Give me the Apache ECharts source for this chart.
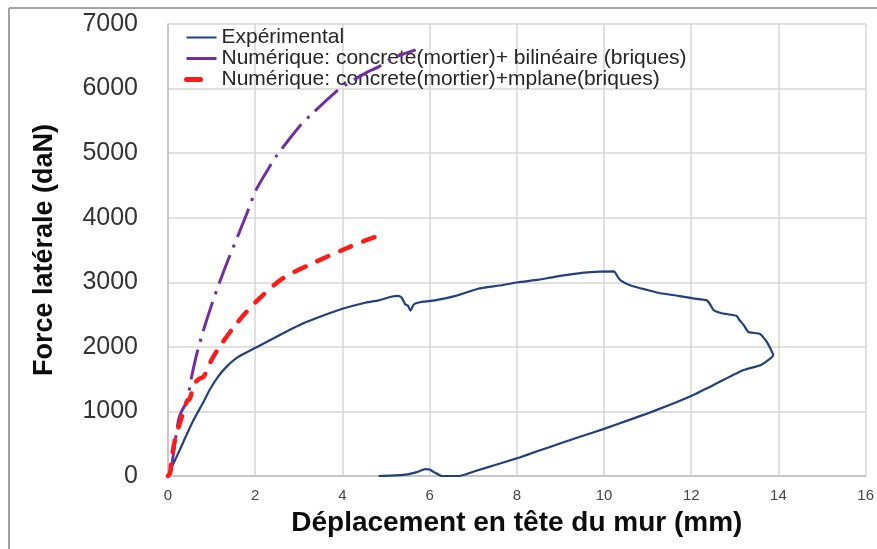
<!DOCTYPE html>
<html>
<head>
<meta charset="utf-8">
<script src="https://cdn.jsdelivr.net/npm/echarts@6/dist/echarts.min.js"></script>
<style>
  html, body { margin: 0; padding: 0; background: #ffffff; }
  #chart { width: 877px; height: 549px; }
</style>
</head>
<body>
<div id="chart"></div>
<script>
// Tick values
const xTicks = [0, 2, 4, 6, 8, 10, 12, 14, 16];
const yTicks = [0, 1000, 2000, 3000, 4000, 5000, 6000, 7000];

// Experimental curve: loading branch then unloading branch (mm, daN)
const expDisp = [
  0, 0.1, 0.2, 0.4, 0.58, 0.8, 0.96, 1.15, 1.34, 1.6, 2.02, 2.5, 3.09, 3.5, 4.0, 4.5,
  4.83, 5.14, 5.29, 5.36, 5.44, 5.5, 5.56, 5.62, 5.67, 5.85, 6.12, 6.6, 7.11, 7.6, 8.03,
  8.5, 8.86, 9.2, 9.55, 9.9, 10.23, 10.3, 10.38, 10.61, 11.0, 11.29, 11.7, 12.05, 12.36,
  12.45, 12.51, 12.7, 13.04, 13.1, 13.2, 13.31, 13.58, 13.73, 13.88,
  13.6, 13.2, 12.6, 12.06, 11.5, 10.92, 10.5, 10.0, 9.5, 9.02, 8.5, 8.03, 7.5, 7.11,
  6.8, 6.66, 6.28, 6.1, 6.0, 5.9, 5.7, 5.44, 5.1, 4.83
];
const expForce = [
  0, 160, 300, 600, 860, 1130, 1340, 1540, 1690, 1840, 1990, 2160, 2360, 2470, 2590, 2680,
  2720, 2780, 2790, 2760, 2660, 2640, 2560, 2640, 2670, 2700, 2720, 2790, 2900, 2950, 3000,
  3040, 3085, 3120, 3150, 3165, 3170, 3100, 3030, 2950, 2880, 2830, 2790, 2750, 2720,
  2640, 2570, 2520, 2480, 2420, 2340, 2230, 2200, 2080, 1870,
  1720, 1640, 1440, 1260, 1100, 950, 850, 730, 620, 510, 390, 280, 170, 90,
  20, 0, 0, 60, 100, 105, 60, 20, 5, 0
];

// Numerical model: concrete (mortar) + bilinear (bricks)
const biliDisp = [
  0, 0.05, 0.12, 0.24, 0.31, 0.43, 0.54, 0.66, 0.81, 1.0, 1.2, 1.38, 1.64, 1.81, 2.02,
  2.33, 2.48, 3.01, 3.32, 3.85, 4.08, 4.53, 4.84, 5.14, 5.68
];
const biliForce = [
  0, 40, 320, 860, 1000, 1150, 1530, 1890, 2250, 2650, 3030, 3350, 3780, 4070, 4430,
  4790, 4950, 5410, 5620, 5950, 6060, 6240, 6340, 6470, 6600
];

// Numerical model: concrete (mortar) + mplane (bricks)
const mplaneDisp = [
  0, 0.05, 0.08, 0.16, 0.3, 0.43, 0.5, 0.6, 0.7, 0.82, 1.0, 1.19, 1.56, 2.02, 2.63,
  3.24, 4.0, 4.5, 5.0
];
const mplaneForce = [
  0, 50, 250, 560, 880, 1150, 1200, 1420, 1500, 1540, 1800, 2010, 2350, 2700, 3060,
  3270, 3500, 3640, 3760
];

const seriesNames = [
  'Expérimental',
  'Numérique: concrete(mortier)+ bilinéaire (briques)',
  'Numérique: concrete(mortier)+mplane(briques)'
];

function zip(xs, ys) { return xs.map((x, i) => [x, ys[i]]); }

const FONT = '"Liberation Sans", Arial, sans-serif';
const GRID_COLOR = '#D6D6D6';

const chart = echarts.init(document.getElementById('chart'), null, { renderer: 'canvas' });

chart.setOption({
  backgroundColor: '#ffffff',
  animation: false,
  textStyle: { fontFamily: FONT },
  grid: { left: 168, right: 8, top: 24, bottom: 73, containLabel: false },
  graphic: [
    { type: 'line', shape: { x1: 9, y1: 8, x2: 877, y2: 8 }, style: { stroke: '#A3A3A3', lineWidth: 2 }, silent: true },
    { type: 'line', shape: { x1: 9, y1: 8, x2: 9, y2: 549 }, style: { stroke: '#A3A3A3', lineWidth: 2 }, silent: true }
  ],
  legend: {
    orient: 'vertical',
    left: 179,
    top: 22,
    itemWidth: 30,
    itemHeight: 14,
    itemGap: 0,
    itemStyle: { opacity: 0 },
    textStyle: { fontFamily: FONT, fontSize: 21, color: '#262626', lineHeight: 20 },
    data: [
      { name: seriesNames[0], lineStyle: { type: 'solid', width: 2 } },
      { name: seriesNames[1], lineStyle: { type: 'solid', width: 3 } },
      { name: seriesNames[2], lineStyle: { type: [14, 40], width: 5, cap: 'round' } }
    ]
  },
  xAxis: {
    type: 'value',
    min: xTicks[0],
    max: xTicks[xTicks.length - 1],
    interval: 2,
    name: 'Déplacement en tête du mur (mm)',
    nameLocation: 'middle',
    nameGap: 33,
    nameTextStyle: { fontFamily: FONT, fontSize: 28, fontWeight: 'bold', color: '#0d0d0d' },
    axisLine: { show: true, lineStyle: { color: '#BFBFBF', width: 1.5 } },
    axisTick: { show: false },
    axisLabel: { fontFamily: FONT, fontSize: 15, color: '#454545', margin: 12 },
    splitLine: { show: true, lineStyle: { color: GRID_COLOR, width: 1.5 } }
  },
  yAxis: {
    type: 'value',
    min: yTicks[0],
    max: yTicks[yTicks.length - 1],
    interval: 1000,
    name: 'Force latérale (daN)',
    nameLocation: 'middle',
    nameGap: 110,
    nameTextStyle: { fontFamily: FONT, fontSize: 27, fontWeight: 'bold', color: '#0d0d0d' },
    axisLine: { show: true, lineStyle: { color: '#BFBFBF', width: 1.5 } },
    axisTick: { show: false },
    axisLabel: {
      fontFamily: FONT, fontSize: 25, color: '#333333', margin: 30,
      formatter: (v) => String(v)
    },
    splitLine: { show: true, lineStyle: { color: GRID_COLOR, width: 1.5 } }
  },
  series: [
    {
      name: seriesNames[0],
      type: 'line',
      data: zip(expDisp, expForce),
      showSymbol: false,
      symbol: 'none',
      smooth: 0.15,
      color: '#23407C',
      lineStyle: { color: '#23407C', width: 2.2 },
      z: 3
    },
    {
      name: seriesNames[1],
      type: 'line',
      data: zip(biliDisp, biliForce),
      showSymbol: false,
      symbol: 'none',
      smooth: 0.3,
      color: '#7030A0',
      lineStyle: { color: '#7030A0', width: 3, type: [31, 8, 3, 8] },
      z: 4
    },
    {
      name: seriesNames[2],
      type: 'line',
      data: zip(mplaneDisp, mplaneForce),
      showSymbol: false,
      symbol: 'none',
      smooth: 0.3,
      color: '#FF1A1A',
      lineStyle: { color: '#FF1A1A', width: 4.5, type: [12, 13], cap: 'round' },
      z: 5
    }
  ]
});
</script>
</body>
</html>
